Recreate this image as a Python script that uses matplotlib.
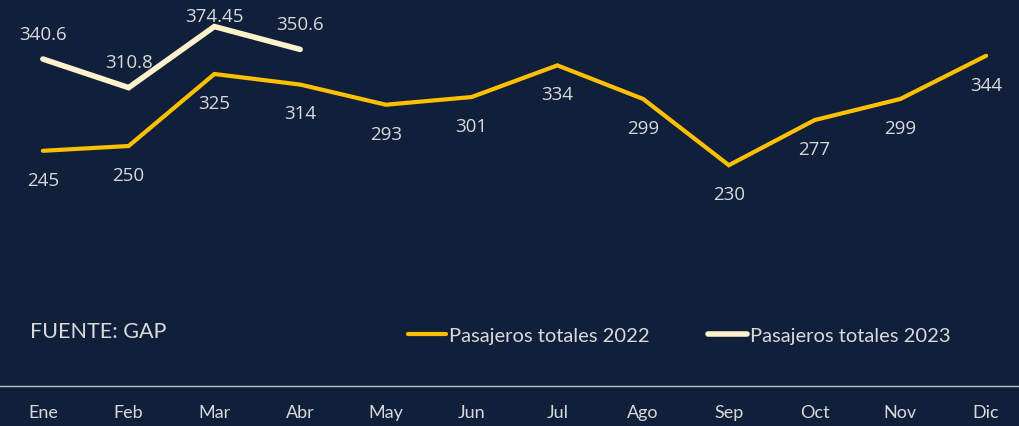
import matplotlib
matplotlib.use("Agg")
import matplotlib.pyplot as plt

months = ["Ene", "Feb", "Mar", "Abr", "May", "Jun", "Jul", "Ago", "Sep", "Oct", "Nov", "Dic"]
pax_2022 = [245, 250, 325, 314, 293, 301, 334, 299, 230, 277, 299, 344]
pax_2023 = [340.6, 310.8, 374.45, 350.6]
labels_2023 = ["340.6", "310.8", "374.45", "350.6"]

bg = "#10203b"
gold = "#ffc000"
cream = "#fff2cc"
txt = "#d9d9d9"
narrow = "Lato"

fig = plt.figure(figsize=(10.19, 4.27), dpi=100, facecolor=bg)
ax = fig.add_axes([0, 40 / 427, 1029 / 1019, 384 / 427])
ax.set_facecolor(bg)
ax.set_xlim(-0.5, 11.5)
ax.set_ylim(0, 400)

x = list(range(len(months)))
ax.plot(x, pax_2022, color=gold, lw=3, solid_capstyle="round", solid_joinstyle="miter",
        label="Pasajeros totales 2022")
ax.plot(x[:len(pax_2023)], pax_2023, color=cream, lw=4, solid_capstyle="round",
        solid_joinstyle="miter", label="Pasajeros totales 2023")

# labels below the 2022 line, above the 2023 line (kept inside the plot area)
for i, v in enumerate(pax_2022):
    ax.text(i, v - 30, str(v), ha="center", va="center", color=txt,
            fontsize=13.5, family="Open Sans")
for i, (v, s) in enumerate(zip(pax_2023, labels_2023)):
    ax.text(i, min(v + 26.5, 385), s, ha="center", va="center", color=txt,
            fontsize=13.5, family="Open Sans")

ax.set_yticks([])
ax.set_xticks(x)
ax.set_xticklabels(months, color=txt, fontsize=13, family=narrow)
ax.tick_params(axis="x", length=0, pad=13)
for s in ["top", "left", "right"]:
    ax.spines[s].set_visible(False)
ax.spines["bottom"].set_color("#bfbfbf")
ax.spines["bottom"].set_linewidth(1)

fig.text(30 / 1019, 1 - 332 / 427, "FUENTE: GAP", color=txt, fontsize=15.5,
         family=narrow, ha="left", va="center")

leg = ax.legend(loc="center left", bbox_to_anchor=(408 / 1019, 1 - 336 / 427),
                bbox_transform=fig.transFigure, ncol=2, frameon=False,
                borderpad=0, borderaxespad=0, handlelength=1.9, handletextpad=0.15,
                columnspacing=2.9, prop={"family": narrow, "size": 14.5})
for t in leg.get_texts():
    t.set_color(txt)

fig.savefig("out.png", dpi=100, facecolor=bg)
